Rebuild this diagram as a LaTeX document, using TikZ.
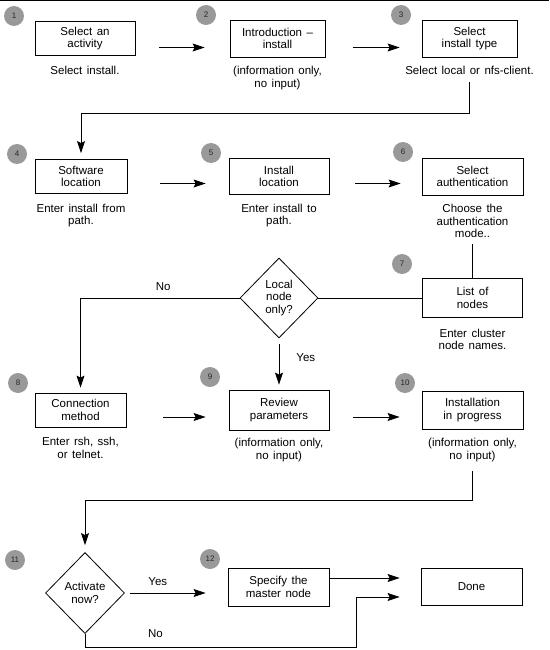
\documentclass[tikz,border=0pt]{standalone}
\usepackage{fontspec}
\setmainfont[WordSpace=1.4]{Liberation Sans}
\usetikzlibrary{positioning,shapes.geometric,arrows.meta}
\tikzset{%
  ptr/.style={%
    -{Stealth[length=12pt,width=8pt,inset=2pt]},
    line width=0.8pt
  },
  gaps/.style 2 args={shorten <=#1,shorten >=#2},
  proc/.style={draw,line width=0.8pt,align=center,inner sep=2pt,minimum height=36pt},
  ask/.style={diamond,draw,line width=0.8pt,align=center,inner sep=0pt,
    minimum width=78pt,minimum height=80pt},
  note/.style={align=center,inner sep=1pt},
  lbl/.style={inner sep=1pt},
  num/.style={circle,fill=black!40,text=black!85,inner sep=0pt,minimum size=20pt,
    font=\fontsize{8pt}{8pt}\selectfont}
}

\begin{document}
\begin{tikzpicture}[x=1pt,y=-1pt,
    every node/.style={font=\fontsize{11.5pt}{12.5pt}\selectfont}]
    \useasboundingbox (0,0) rectangle (549,650);
    \draw[line width=1pt] (0,0.5) -- (549,0.5);

    % step numbers
    \node[num] (n1) at (14,16) {1};
    \node[num] (n2) at (206,15) {2};
    \node[num] (n3) at (401,15) {3};
    \node[num] (n4) at (17,154) {4};
    \node[num] (n5) at (211,153) {5};
    \node[num] (n6) at (403,152) {6};
    \node[num] (n7) at (402,264) {7};
    \node[num] (n8) at (18,383) {8};
    \node[num] (n9) at (210,377) {9};
    \node[num] (n10) at (405,383) {10};
    \node[num] (n11) at (15,560) {11};
    \node[num] (n12) at (210,559) {12};

    % first row
    \node[proc,minimum width=100pt,minimum height=34pt] (act) at (85,38.5) {Select an\\activity};
    \node[note,below=9pt of act] (actnote) {Select install.};
    \node[proc,minimum width=95pt,minimum height=37pt] (intro) at (277.5,38.5) {Introduction –\\install};
    \node[note,below=8pt of intro] (intronote) {(information only,\\no input)};
    \node[proc,minimum width=95pt,minimum height=37pt] (seltype) at (469.5,38.5) {Select\\install type};
    \node[note,below=8pt of seltype] (seltypenote) {Select local or nfs-client.};

    \draw[ptr,gaps={24pt}{25pt}] ([yshift=-9pt]act.east) -- ([yshift=-9pt]intro.west);
    \draw[ptr,gaps={28pt}{22pt}] ([yshift=-9pt]intro.east) -- ([yshift=-9pt]seltype.west);

    % second row
    \node[proc,minimum width=92pt,minimum height=34pt] (swloc) at (81,176.5) {Software\\location};
    \node[note,below=9pt of swloc] (swlocnote) {Enter install from\\path.};
    \node[proc,minimum width=100pt] (instloc) at (279,176.5) {Install\\location};
    \node[note,below=8pt of instloc] (instlocnote) {Enter install to\\path.};
    \node[proc,minimum width=101pt,minimum height=37pt] (auth) at (472.5,176.5) {Select\\authentication};
    \node[note,below=8pt of auth] (authnote) {Choose the\\authentication\\mode..};

    \coordinate (turn1) at (0,113);
    \draw[ptr,shorten >=6pt] ([yshift=-6pt]seltypenote.south) -- (seltypenote.south |- turn1) -| (swloc.north);
    \draw[ptr,gaps={33pt}{23pt}] ([yshift=-7pt]swloc.east) -- ([yshift=-7pt]instloc.west);
    \draw[ptr,gaps={26pt}{21pt}] ([yshift=-7pt]instloc.east) -- ([yshift=-7pt]auth.west);

    % cluster nodes and the local test
    \node[proc,minimum width=100pt,minimum height=39pt] (nodes) at (472.5,298) {List of\\nodes};
    \node[note,below=10pt of nodes] (nodesnote) {Enter cluster\\node names.};
    \node[ask] (local) at (279,298) {Local\\node\\only?};

    \draw ([yshift=-5pt]authnote.south) -- (nodes.north);
    \draw (nodes.west) -- (local.east);

    % fourth row
    \node[proc,minimum width=91pt,minimum height=34pt] (conn) at (80.5,410) {Connection\\method};
    \node[note,below=9pt of conn] (connnote) {Enter rsh, ssh,\\or telnet.};
    \node[proc,minimum width=100pt,minimum height=40pt] (review) at (279,410) {Review\\parameters};
    \node[note,below=7pt of review] (reviewnote) {(information only,\\no input)};
    \node[proc,minimum width=101pt,minimum height=38pt] (progress) at (472.5,410) {Installation\\in progress};
    \node[note,below=8pt of progress] (progressnote) {(information only,\\no input)};

    \draw[ptr,shorten >=5pt] (local.west) -| (conn.north) node[lbl,pos=0.24,above=6pt] {No};
    \draw[ptr,gaps={6pt}{5pt}] (local.south) -- (review.north) node[lbl,pos=0.37,right=16pt] {Yes};
    \draw[ptr,gaps={37pt}{23pt}] ([yshift=-7pt]conn.east) -- ([yshift=-7pt]review.west);
    \draw[ptr,gaps={24pt}{22pt}] ([yshift=-7pt]review.east) -- ([yshift=-7pt]progress.west);

    % last row
    \node[ask,minimum width=79pt,minimum height=81pt] (activate) at (85,593) {Activate\\now?};
    \node[proc,minimum width=101pt,minimum height=38pt] (master) at (278.5,587) {Specify the\\master node};
    \node[proc,minimum width=101pt,minimum height=37pt] (done) at (471.5,587) {Done};

    \coordinate (turn2) at (0,500);
    \draw[ptr,shorten >=7pt] ([yshift=-8pt]progressnote.south) -- (progressnote.south |- turn2) -| (activate.north);
    \draw[ptr,gaps={5pt}{22pt}] (activate.east) -- (activate.east -| master.west) node[lbl,pos=0.32,above=6pt] {Yes};
    \draw[ptr,shorten >=21pt] ([yshift=9pt]master.east) -- ([yshift=9pt]done.west);
    \coordinate (turn3) at (356,647);
    \draw[ptr,shorten >=21pt] (activate.south) |- (turn3) node[lbl,pos=0.63,above=8pt] {No} |- ([yshift=-10pt]done.west);
\end{tikzpicture}
\end{document}
